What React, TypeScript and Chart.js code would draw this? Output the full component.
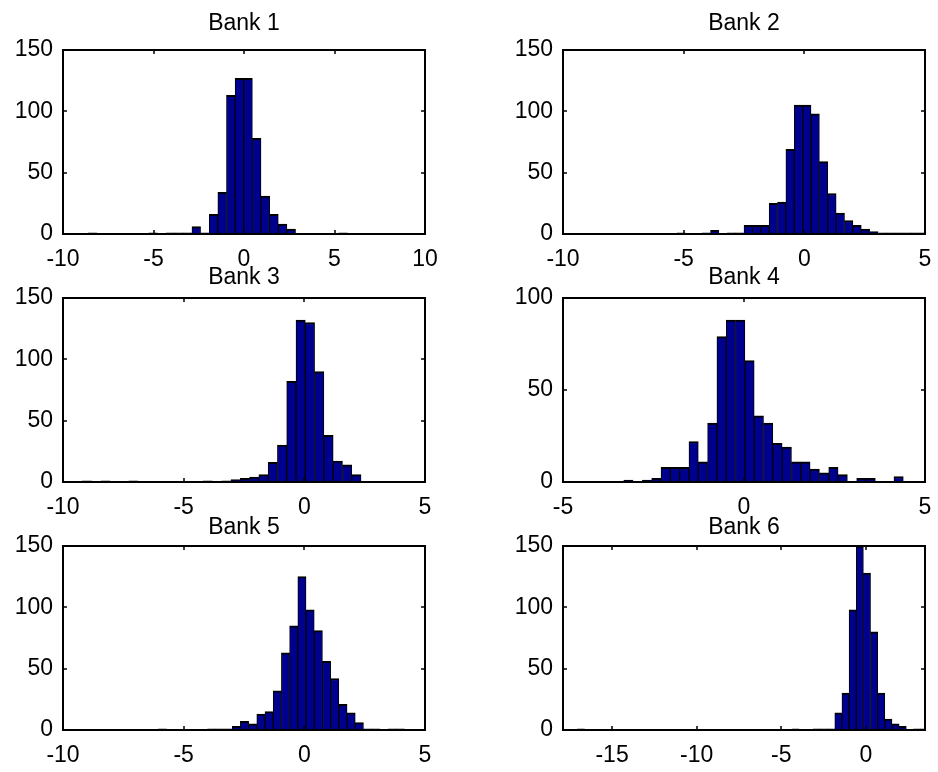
import React, { useEffect, useRef } from "react";
import { Chart, registerables } from "chart.js";

Chart.register(...registerables);

// ---------------- data ----------------
const titles = ["Bank 1", "Bank 2", "Bank 3", "Bank 4", "Bank 5", "Bank 6"];

const bank1BinStart = -8.6;
const bank1BinWidth = 0.477;
const bank1Counts = [1, 0, 0, 0, 0, 0, 0, 1, 0, 1, 1, 1, 6, 1, 16, 34, 113, 127, 127, 78, 31, 16, 8, 4, 0, 0, 0, 0, 0, 1];
const bank1XLimits = [-10, 10];
const bank1XTicks = [-10, -5, 0, 5, 10];
const bank1YTicks = [0, 50, 100, 150];

const bank2BinStart = -5.275;
const bank2BinWidth = 0.347;
const bank2Counts = [1, 0, 0, 1, 3, 0, 1, 1, 7, 7, 7, 25, 26, 69, 105, 105, 98, 59, 33, 17, 11, 7, 4, 2, 1, 1, 1, 1, 1, 1];
const bank2XLimits = [-10, 5];
const bank2XTicks = [-10, -5, 0, 5];
const bank2YTicks = [0, 50, 100, 150];

const bank3BinStart = -9.2;
const bank3BinWidth = 0.385;
const bank3Counts = [1, 0, 1, 0, 0, 1, 0, 0, 0, 0, 0, 0, 0, 1, 0, 1, 2, 3, 4, 6, 16, 30, 82, 132, 130, 90, 38, 17, 14, 6];
const bank3XLimits = [-10, 5];
const bank3XTicks = [-10, -5, 0, 5];
const bank3YTicks = [0, 50, 100, 150];

const bank4BinStart = -3.322;
const bank4BinWidth = 0.2574;
const bank4Counts = [1, 0, 1, 2, 8, 8, 8, 22, 11, 32, 79, 88, 88, 66, 36, 32, 21, 19, 11, 11, 7, 5, 8, 4, 0, 2, 2, 0, 0, 3];
const bank4XLimits = [-5, 5];
const bank4XTicks = [-5, 0, 5];
const bank4YTicks = [0, 50, 100];

const bank5BinStart = -6.05;
const bank5BinWidth = 0.34;
const bank5Counts = [1, 0, 0, 0, 0, 0, 1, 1, 1, 3, 7, 5, 13, 15, 32, 63, 85, 125, 98, 81, 56, 42, 21, 14, 6, 1, 1, 0, 1, 1];
const bank5XLimits = [-10, 5];
const bank5XTicks = [-10, -5, 0, 5];
const bank5YTicks = [0, 50, 100, 150];

const bank6BinStart = -17.05;
const bank6BinWidth = 0.4227;
const bank6Counts = [
  1, 0, 0, 0, 0, 0, 0, 0, 0, 0, 0, 0, 0, 0, 0, 0, 0, 0, 0, 0, 0, 0, 0, 0, 0, 0, 0, 0, 0, 0,
  1, 0, 0, 1, 1, 1, 14, 30, 98, 150, 128, 80, 30, 9, 5, 3, 0, 1, 1,
];
const bank6XLimits = [-17.9, 3.5];
const bank6XTicks = [-15, -10, -5, 0];
const bank6YTicks = [0, 50, 100, 150];

const banks = [
  { start: bank1BinStart, width: bank1BinWidth, counts: bank1Counts, xlim: bank1XLimits, xticks: bank1XTicks, yticks: bank1YTicks },
  { start: bank2BinStart, width: bank2BinWidth, counts: bank2Counts, xlim: bank2XLimits, xticks: bank2XTicks, yticks: bank2YTicks },
  { start: bank3BinStart, width: bank3BinWidth, counts: bank3Counts, xlim: bank3XLimits, xticks: bank3XTicks, yticks: bank3YTicks },
  { start: bank4BinStart, width: bank4BinWidth, counts: bank4Counts, xlim: bank4XLimits, xticks: bank4XTicks, yticks: bank4YTicks },
  { start: bank5BinStart, width: bank5BinWidth, counts: bank5Counts, xlim: bank5XLimits, xticks: bank5XTicks, yticks: bank5YTicks },
  { start: bank6BinStart, width: bank6BinWidth, counts: bank6Counts, xlim: bank6XLimits, xticks: bank6XTicks, yticks: bank6YTicks },
];

// ---------------- layout ----------------
const COL_LEFT = [63, 563];
const ROW_TOP = [50, 298, 546];
const ROW_TITLE_H = [38, 32, 30];
const PLOT_W = 362;
const PLOT_H = 184;
const Y_AXIS_W = 70;
const X_AXIS_H = 45;
const RIGHT_PAD = 40;
const FONT_SIZE = 23;
const FONT_FAMILY = "'Liberation Sans', Arial, Helvetica, sans-serif";

const boxPlugin = {
  id: "matlabBox",
  afterDatasetsDraw(chart: any) {
    const { ctx, chartArea: a, scales } = chart;
    ctx.save();
    ctx.strokeStyle = "#000";
    ctx.lineWidth = 2;
    ctx.strokeRect(a.left, a.top, a.right - a.left, a.bottom - a.top);
    ctx.lineWidth = 1.5;
    const tl = 4;
    ctx.beginPath();
    for (const t of scales.x.ticks) {
      const px = Math.round(scales.x.getPixelForValue(t.value));
      ctx.moveTo(px, a.bottom);
      ctx.lineTo(px, a.bottom - tl);
      ctx.moveTo(px, a.top);
      ctx.lineTo(px, a.top + tl);
    }
    for (const t of scales.y.ticks) {
      const py = Math.round(scales.y.getPixelForValue(t.value));
      ctx.moveTo(a.left, py);
      ctx.lineTo(a.left + tl, py);
      ctx.moveTo(a.right, py);
      ctx.lineTo(a.right - tl, py);
    }
    ctx.stroke();
    ctx.restore();
  },
};

function Panel({ index }: { index: number }) {
  const ref = useRef<HTMLCanvasElement | null>(null);
  const col = index % 2;
  const row = Math.floor(index / 2);
  const titleH = ROW_TITLE_H[row];
  const W = Y_AXIS_W + PLOT_W + RIGHT_PAD;
  const H = titleH + PLOT_H + X_AXIS_H;
  const left = COL_LEFT[col] - Y_AXIS_W;
  const top = ROW_TOP[row] - titleH;

  useEffect(() => {
    const b = banks[index];
    const points = b.counts.map((c, i) => ({ x: b.start + (i + 0.5) * b.width, y: c }));
    const tickFont = { family: FONT_FAMILY, size: FONT_SIZE };
    const chart = new Chart(ref.current as HTMLCanvasElement, {
      type: "bar",
      data: {
        datasets: [
          {
            data: points,
            backgroundColor: "#00008F",
            borderColor: "#000000",
            borderWidth: { top: 2, left: 1, right: 1, bottom: 0 },
            borderSkipped: "start",
            barPercentage: 1,
            categoryPercentage: 1,
            clip: 0,
          } as any,
        ],
      },
      options: {
        animation: false,
        responsive: false,
        maintainAspectRatio: false,
        layout: { padding: { left: 0, right: RIGHT_PAD, top: 0, bottom: 0 } },
        plugins: {
          legend: { display: false },
          tooltip: { enabled: false },
          title: {
            display: true,
            text: titles[index],
            color: "#000",
            fullSize: false,
            font: { family: FONT_FAMILY, size: FONT_SIZE, weight: "normal", lineHeight: 1 },
            padding: { top: 0, bottom: titleH - FONT_SIZE },
          },
        },
        scales: {
          x: {
            type: "linear",
            offset: false,
            min: b.xlim[0],
            max: b.xlim[1],
            afterBuildTicks: (s: any) => {
              s.ticks = b.xticks.map((v) => ({ value: v }));
            },
            afterFit: (s: any) => {
              s.height = X_AXIS_H;
            },
            grid: { display: false, drawTicks: false },
            border: { display: true, color: "#000", width: 2 },
            ticks: { color: "#000", font: tickFont, padding: 12, maxRotation: 0, autoSkip: false },
          },
          y: {
            type: "linear",
            min: 0,
            max: b.yticks[b.yticks.length - 1],
            afterBuildTicks: (s: any) => {
              s.ticks = b.yticks.map((v) => ({ value: v }));
            },
            afterFit: (s: any) => {
              s.width = Y_AXIS_W;
            },
            grid: { display: false, drawTicks: false },
            border: { display: true, color: "#000", width: 2 },
            ticks: { color: "#000", font: tickFont, padding: 10, autoSkip: false },
          },
        },
      } as any,
      plugins: [boxPlugin],
    });
    return () => chart.destroy();
  }, [index]);

  return (
    <canvas
      ref={ref}
      width={W}
      height={H}
      style={{ position: "absolute", left, top, width: W, height: H }}
    />
  );
}

export default function App() {
  return (
    <div style={{ position: "absolute", left: 0, top: 0, width: 938, height: 772, background: "#fff" }}>
      {[0, 1, 2, 3, 4, 5].map((i) => (
        <Panel key={i} index={i} />
      ))}
    </div>
  );
}
